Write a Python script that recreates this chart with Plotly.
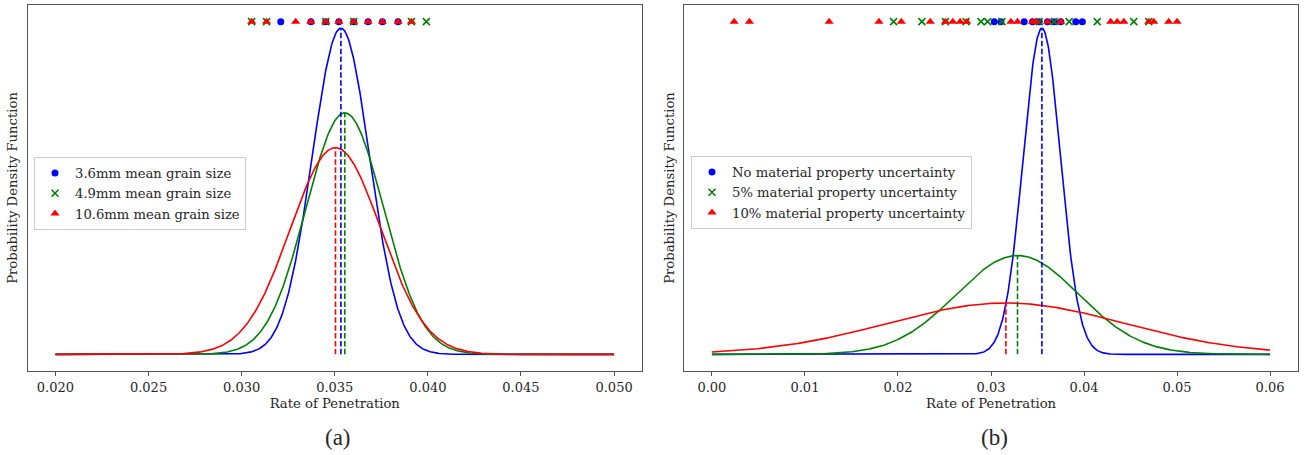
import numpy as np
import plotly.graph_objects as go

# ---------------- Panel (a): effect of mean grain size ----------------
grain_labels = ["3.6mm mean grain size", "4.9mm mean grain size", "10.6mm mean grain size"]
grain_means = [0.03533, 0.03554, 0.03504]
grain_stds = [0.00154, 0.00208, 0.00243]
grain_samples = [
    [0.03210, 0.03372, 0.03452, 0.03522, 0.03602, 0.03679, 0.03756, 0.03840],
    [0.03054, 0.03134, 0.03452, 0.03602, 0.03912, 0.03992],
    [0.03054, 0.03134, 0.03290, 0.03372, 0.03452, 0.03522, 0.03602,
     0.03679, 0.03756, 0.03840, 0.03912],
]
grain_ticks = [0.020, 0.025, 0.030, 0.035, 0.040, 0.045, 0.050]

# ---------------- Panel (b): effect of material property uncertainty ----------------
unc_labels = ["No material property uncertainty", "5% material property uncertainty",
              "10% material property uncertainty"]
unc_means = [0.03547, 0.03285, 0.03160]
unc_stds = [0.00200, 0.00660, 0.01270]
unc_samples = [
    [0.03035, 0.03107, 0.03357, 0.03446, 0.03518, 0.03607, 0.03679, 0.03750,
     0.03911, 0.03982],
    [0.01953, 0.02257, 0.02510, 0.02732, 0.02893, 0.02964, 0.03118, 0.03518,
     0.03679, 0.03840, 0.04142, 0.04535, 0.04696],
    [0.00239, 0.00403, 0.01260, 0.01796, 0.02036, 0.02347, 0.02510, 0.02589,
     0.02668, 0.02739, 0.03214, 0.03285, 0.03446, 0.03482, 0.03607, 0.03750,
     0.04286, 0.04357, 0.04428, 0.04696, 0.04750, 0.04910, 0.05000],
]
unc_ticks = [0.00, 0.01, 0.02, 0.03, 0.04, 0.05, 0.06]

colors = ["#0000ff", "#008000", "#ff0000"]
symbols = ["circle", "x-thin", "triangle-up"]
sizes = [7, 7, 8]

SERIF = "DejaVu Serif, serif"
TEXT = "#262626"
FRAME = "#555555"


def normal_pdf(x, mu, sigma):
    return np.exp(-0.5 * ((x - mu) / sigma) ** 2) / (sigma * np.sqrt(2 * np.pi))


fig = go.Figure()


def add_panel(xref, yref, legend_name, labels, means, stds, samples, x_lo, x_hi):
    grid = np.linspace(x_lo, x_hi, 800)
    peaks = [normal_pdf(m, m, s) for m, s in zip(means, stds)]
    level = 1.02 * max(peaks)
    for i, (mu, sd) in enumerate(zip(means, stds)):
        fig.add_trace(go.Scatter(
            x=grid, y=normal_pdf(grid, mu, sd), mode="lines",
            line=dict(color=colors[i], width=1.6), showlegend=False,
            xaxis=xref, yaxis=yref, hoverinfo="skip"))
    for i, (mu, sd) in enumerate(zip(means, stds)):
        fig.add_trace(go.Scatter(
            x=[mu, mu], y=[0, normal_pdf(mu, mu, sd)], mode="lines",
            line=dict(color=colors[i], width=1.6, dash="5.5px,2.4px"),
            showlegend=False, xaxis=xref, yaxis=yref, hoverinfo="skip"))
    for i, pts in enumerate(samples):
        marker = dict(symbol=symbols[i], size=sizes[i], color=colors[i])
        if symbols[i] == "x-thin":
            marker["line"] = dict(color=colors[i], width=1.6)
        fig.add_trace(go.Scatter(
            x=pts, y=[level] * len(pts), mode="markers", marker=marker,
            name=labels[i], legend=legend_name, xaxis=xref, yaxis=yref))
    return level


lvl_a = add_panel("x", "y", "legend", grain_labels, grain_means, grain_stds,
                  grain_samples, 0.020, 0.050)
lvl_b = add_panel("x2", "y2", "legend2", unc_labels, unc_means, unc_stds,
                  unc_samples, 0.0, 0.060)

W, H = 1309, 455
y_dom = [1 - 371 / H, 1 - 5 / H]

common_x = dict(
    showline=True, mirror=True, linecolor=FRAME, linewidth=1.3,
    ticks="outside", ticklen=4, tickwidth=1.2, tickcolor=FRAME,
    showgrid=False, zeroline=False,
    tickfont=dict(family=SERIF, size=13, color=TEXT),
    title=dict(text="Rate of Penetration", font=dict(family=SERIF, size=13.2, color=TEXT),
               standoff=5),
    automargin=False,
)
common_y = dict(
    showline=True, mirror=True, linecolor=FRAME, linewidth=1.3,
    showticklabels=False, ticks="", showgrid=False, zeroline=False,
    title=dict(text="Probability Density Function",
               font=dict(family=SERIF, size=13.2, color=TEXT), standoff=5),
    automargin=False,
)

legend_style = dict(
    bgcolor="rgba(255,255,255,0.9)", bordercolor="#cccccc", borderwidth=1,
    xanchor="left", yanchor="top", tracegroupgap=0,
)

caption_font = dict(family="Liberation Serif, serif", size=23, color=TEXT)

fig.update_layout(
    width=W, height=H,
    margin=dict(l=0, r=0, t=0, b=0),
    paper_bgcolor="white", plot_bgcolor="white",
    xaxis=dict(domain=[27.5 / W, 642 / W], range=[0.0185, 0.0515],
               tickvals=grain_ticks, tickformat=".3f", anchor="y", **common_x),
    yaxis=dict(domain=y_dom, range=[-0.05 * lvl_a, 1.05 * lvl_a], anchor="x", **common_y),
    xaxis2=dict(domain=[684 / W, 1298 / W], range=[-0.003, 0.063],
                tickvals=unc_ticks, tickformat=".2f", anchor="y2", **common_x),
    yaxis2=dict(domain=y_dom, range=[-0.05 * lvl_b, 1.05 * lvl_b], anchor="x2", **common_y),
    legend=dict(x=34 / W, y=1 - 157 / H, font=dict(family=SERIF, size=13.2, color=TEXT),
                **legend_style),
    legend2=dict(x=691 / W, y=1 - 156 / H, font=dict(family=SERIF, size=13.2, color=TEXT),
                 **legend_style),
    showlegend=True,
    annotations=[
        dict(text="(a)", x=338 / W, y=1 - 437 / H, xref="paper", yref="paper",
             xanchor="center", yanchor="middle", showarrow=False, font=caption_font),
        dict(text="(b)", x=994 / W, y=1 - 437 / H, xref="paper", yref="paper",
             xanchor="center", yanchor="middle", showarrow=False, font=caption_font),
    ],
)

fig.write_html("out.html")
